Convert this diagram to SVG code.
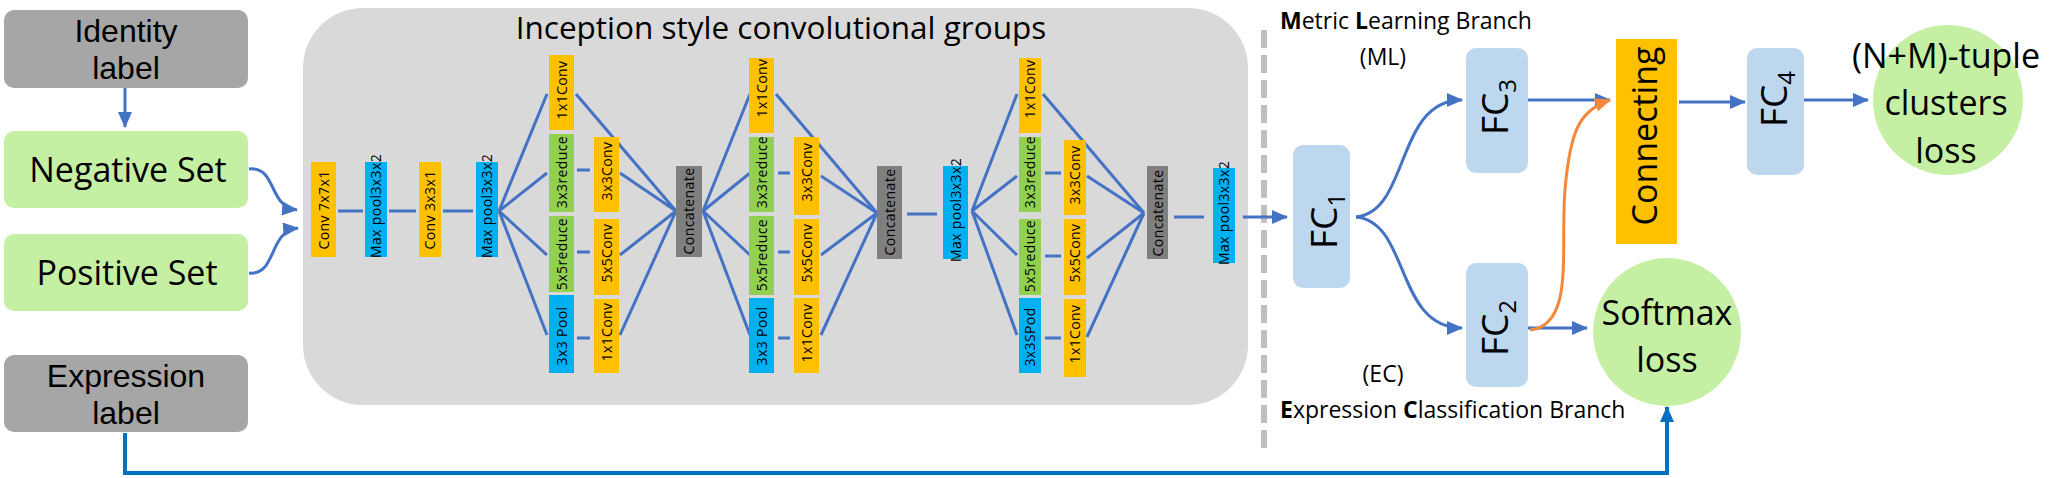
<svg xmlns="http://www.w3.org/2000/svg" width="2054" height="478" viewBox="0 0 2054 478">
<style>
.big{font-family:"Open Sans","Noto Sans",sans-serif;font-size:34px;fill:#000;text-anchor:middle}
.gl{font-family:"Liberation Sans",Arial,sans-serif;font-size:32px;fill:#000;text-anchor:middle}
.lay{font-family:"Open Sans","Noto Sans",sans-serif;font-size:14px;letter-spacing:0.4px;fill:#000;text-anchor:middle}
.fc{font-family:"Open Sans","Noto Sans",sans-serif;font-size:37px;fill:#000;text-anchor:middle}
.br{font-family:"Open Sans","Noto Sans",sans-serif;font-size:23px;fill:#000}
.or{fill:#ffc000}.bl{fill:#00b0f0}.gr{fill:#92d050}.ct{fill:#7f7f7f}
.ln{stroke:#4472c4;stroke-width:3;fill:none}
.fcb{fill:#bdd7ee}
</style>
<defs>
<marker id="ah" markerUnits="userSpaceOnUse" markerWidth="16" markerHeight="14" refX="15" refY="7" orient="auto"><path d="M0,0 L16,7 L0,14 Z" fill="#4472c4"/></marker>
<marker id="ahd" markerUnits="userSpaceOnUse" markerWidth="16" markerHeight="14" refX="15" refY="7" orient="auto"><path d="M0,0 L16,7 L0,14 Z" fill="#0070c0"/></marker>
<marker id="aho" markerUnits="userSpaceOnUse" markerWidth="16" markerHeight="14" refX="15" refY="7" orient="auto"><path d="M0,0 L16,7 L0,14 Z" fill="#f5883a"/></marker>
</defs>

<rect x="0" y="0" width="2054" height="478" fill="#fff"/>

<g id="inception-group">
<rect x="303" y="8" width="945" height="397" rx="60" fill="#d9d9d9"/>
<text class="big" x="781" y="39" style="font-size:31.5px">Inception style convolutional groups</text>
</g>

<g id="separator">
<line x1="1264" y1="30" x2="1264" y2="452" stroke="#bfbfbf" stroke-width="6" stroke-dasharray="18 7"/>
</g>

<g id="connectors">
<line class="ln" x1="125" y1="88" x2="125" y2="127" marker-end="url(#ah)"/>
<path class="ln" d="M249,169 C277,166 268,207 297,210" marker-end="url(#ah)"/>
<path class="ln" d="M249,273 C277,276 268,231 298,228" marker-end="url(#ah)"/>
<path d="M125,433 L125,473 L1667,473 L1667,407" stroke="#0070c0" stroke-width="4" fill="none" marker-end="url(#ahd)"/>
<line class="ln" x1="338" y1="211" x2="363" y2="211"/>
<line class="ln" x1="389" y1="211" x2="416" y2="211"/>
<line class="ln" x1="443" y1="211" x2="473" y2="211"/>
<path class="ln" d="M499,211 L547,94 M499,211 L547,173 M499,211 L547,255 M499,211 L547,335"/>
<path class="ln" d="M577,170 L590,170 M577,252 L590,252 M577,338 L590,338"/>
<path class="ln" d="M576,94 L676,211 M620,173 L676,211 M620,255 L676,211 M620,335 L676,211"/>
<path class="ln" d="M703,211 L750,94 M703,211 L750,173 M703,211 L750,255 M703,211 L750,335"/>
<path class="ln" d="M778,173 L790,173 M778,252 L790,252 M778,338 L790,338"/>
<path class="ln" d="M776,94 L877,213 M821,176 L877,213 M821,255 L877,213 M821,335 L877,213"/>
<line class="ln" x1="907" y1="214" x2="937" y2="214"/>
<path class="ln" d="M972,211 L1017,94 M972,211 L1017,176 M972,211 L1017,255 M972,211 L1017,335"/>
<path class="ln" d="M1045,173 L1061,173 M1045,256 L1061,256 M1045,338 L1061,338"/>
<path class="ln" d="M1043,94 L1144,213 M1087,176 L1144,213 M1087,258 L1144,213 M1087,337 L1144,213"/>
<line class="ln" x1="1174" y1="217" x2="1204" y2="217"/>
<line class="ln" x1="1243" y1="217" x2="1287" y2="217" marker-end="url(#ah)"/>
<path class="ln" d="M1356,217 C1410,212 1395,100 1462,100" marker-end="url(#ah)"/>
<path class="ln" d="M1356,217 C1410,222 1395,328 1462,328" marker-end="url(#ah)"/>
<line class="ln" x1="1528" y1="100" x2="1610" y2="100" marker-end="url(#ah)"/>
<line class="ln" x1="1522" y1="328" x2="1587" y2="328" marker-end="url(#ah)"/>
<path d="M1530,330 C1575,325 1560,250 1565,190 C1570,130 1580,110 1610,100" stroke="#f5883a" stroke-width="3" fill="none" marker-end="url(#aho)"/>
<line class="ln" x1="1679" y1="102" x2="1745" y2="102" marker-end="url(#ah)"/>
<line class="ln" x1="1803" y1="100" x2="1868" y2="100" marker-end="url(#ah)"/>
</g>

<g id="identity-label"><rect x="4" y="10" width="244" height="78" rx="10" fill="#a6a6a6"/><text class="gl"><tspan x="126" y="42">Identity</tspan><tspan x="126" y="79">label</tspan></text></g>
<g id="negative-set"><rect x="4" y="131" width="244" height="77" rx="10" fill="#c5f0a4"/><text class="big" x="128" y="182">Negative Set</text></g>
<g id="positive-set"><rect x="4" y="234" width="244" height="77" rx="10" fill="#c5f0a4"/><text class="big" x="127" y="285">Positive Set</text></g>
<g id="expression-label"><rect x="4" y="355" width="244" height="77" rx="10" fill="#a6a6a6"/><text class="gl"><tspan x="126" y="387">Expression</tspan><tspan x="126" y="424">label</tspan></text></g>

<g id="conv7"><rect class="or" x="311" y="162" width="25" height="95"/><text class="lay" transform="translate(328.5,210) rotate(-90)">Conv 7x7x1</text></g>
<g id="pool1"><rect class="bl" x="365" y="162" width="22" height="95"/><text class="lay" transform="translate(381,206) rotate(-90)">Max pool3x3x2</text></g>
<g id="conv3"><rect class="or" x="419" y="162" width="22" height="95"/><text class="lay" transform="translate(435,210) rotate(-90)">Conv 3x3x1</text></g>
<g id="pool2"><rect class="bl" x="476" y="162" width="22" height="95"/><text class="lay" transform="translate(492,206) rotate(-90)">Max pool3x3x2</text></g>

<g id="inc1-1x1"><rect class="or" x="549" y="55" width="25" height="75"/><text class="lay" transform="translate(566.5,90) rotate(-90)">1x1Conv</text></g>
<g id="inc1-3r"><rect class="gr" x="549" y="134" width="25" height="78"/><text class="lay" transform="translate(566.5,172) rotate(-90)">3x3reduce</text></g>
<g id="inc1-5r"><rect class="gr" x="549" y="216" width="25" height="76"/><text class="lay" transform="translate(566.5,254) rotate(-90)">5x5reduce</text></g>
<g id="inc1-pool"><rect class="bl" x="549" y="295" width="25" height="78"/><text class="lay" transform="translate(566.5,336) rotate(-90)">3x3 Pool</text></g>
<g id="inc1-3c"><rect class="or" x="594" y="137" width="25" height="75"/><text class="lay" transform="translate(611.5,171) rotate(-90)">3x3Conv</text></g>
<g id="inc1-5c"><rect class="or" x="594" y="219" width="25" height="76"/><text class="lay" transform="translate(611.5,253) rotate(-90)">5x5Conv</text></g>
<g id="inc1-1c"><rect class="or" x="594" y="299" width="25" height="74"/><text class="lay" transform="translate(611.5,332) rotate(-90)">1x1Conv</text></g>
<g id="concat1"><rect class="ct" x="676" y="166" width="26" height="91"/><text class="lay" transform="translate(694,211) rotate(-90)" fill="#262626">Concatenate</text></g>

<g id="inc2-1x1"><rect class="or" x="749" y="58" width="25" height="75"/><text class="lay" transform="translate(766.5,88) rotate(-90)">1x1Conv</text></g>
<g id="inc2-3r"><rect class="gr" x="749" y="137" width="25" height="75"/><text class="lay" transform="translate(766.5,172) rotate(-90)">3x3reduce</text></g>
<g id="inc2-5r"><rect class="gr" x="749" y="216" width="25" height="79"/><text class="lay" transform="translate(766.5,255) rotate(-90)">5x5reduce</text></g>
<g id="inc2-pool"><rect class="bl" x="749" y="298" width="25" height="75"/><text class="lay" transform="translate(766.5,336) rotate(-90)">3x3 Pool</text></g>
<g id="inc2-3c"><rect class="or" x="794" y="137" width="25" height="78"/><text class="lay" transform="translate(811.5,172) rotate(-90)">3x3Conv</text></g>
<g id="inc2-5c"><rect class="or" x="794" y="219" width="25" height="76"/><text class="lay" transform="translate(811.5,253) rotate(-90)">5x5Conv</text></g>
<g id="inc2-1c"><rect class="or" x="794" y="298" width="25" height="75"/><text class="lay" transform="translate(811.5,333) rotate(-90)">1x1Conv</text></g>
<g id="concat2"><rect class="ct" x="877" y="166" width="25" height="93"/><text class="lay" transform="translate(894.5,212) rotate(-90)">Concatenate</text></g>

<g id="pool3"><rect class="bl" x="943" y="166" width="25" height="93"/><text class="lay" transform="translate(960.5,210) rotate(-90)">Max pool3x3x2</text></g>

<g id="inc3-1x1"><rect class="or" x="1019" y="58" width="22" height="75"/><text class="lay" transform="translate(1035,89) rotate(-90)">1x1Conv</text></g>
<g id="inc3-3r"><rect class="gr" x="1019" y="137" width="22" height="75"/><text class="lay" transform="translate(1035,172) rotate(-90)">3x3reduce</text></g>
<g id="inc3-5r"><rect class="gr" x="1019" y="219" width="22" height="76"/><text class="lay" transform="translate(1035,256) rotate(-90)">5x5reduce</text></g>
<g id="inc3-pool"><rect class="bl" x="1019" y="298" width="22" height="75"/><text class="lay" transform="translate(1035,337) rotate(-90)">3x3SPod</text></g>
<g id="inc3-3c"><rect class="or" x="1064" y="140" width="22" height="75"/><text class="lay" transform="translate(1080,175) rotate(-90)">3x3Conv</text></g>
<g id="inc3-5c"><rect class="or" x="1064" y="219" width="22" height="76"/><text class="lay" transform="translate(1080,253) rotate(-90)">5x5Conv</text></g>
<g id="inc3-1c"><rect class="or" x="1064" y="299" width="22" height="78"/><text class="lay" transform="translate(1080,334) rotate(-90)">1x1Conv</text></g>
<g id="concat3"><rect class="ct" x="1147" y="166" width="21" height="93"/><text class="lay" transform="translate(1162.5,213) rotate(-90)">Concatenate</text></g>

<g id="pool4"><rect class="bl" x="1213" y="168" width="22" height="95"/><text class="lay" transform="translate(1229,213) rotate(-90)">Max pool3x3x2</text></g>

<g id="ml-label"><text class="br" x="1280" y="29"><tspan font-weight="bold">M</tspan>etric <tspan font-weight="bold">L</tspan>earning Branch</text><text class="br" x="1383" y="65" text-anchor="middle">(ML)</text></g>
<g id="ec-label"><text class="br" x="1383" y="382" text-anchor="middle">(EC)</text><text class="br" x="1280" y="418"><tspan font-weight="bold">E</tspan>xpression <tspan font-weight="bold">C</tspan>lassification Branch</text></g>

<g id="fc1"><rect class="fcb" x="1293" y="145" width="57" height="143" rx="10"/><text class="fc" transform="translate(1337,221) rotate(-90)">FC<tspan font-size="24" dy="8">1</tspan></text></g>
<g id="fc3"><rect class="fcb" x="1466" y="48" width="62" height="125" rx="10"/><text class="fc" transform="translate(1508,107) rotate(-90)">FC<tspan font-size="24" dy="8">3</tspan></text></g>
<g id="fc2"><rect class="fcb" x="1466" y="263" width="62" height="124" rx="10"/><text class="fc" transform="translate(1508,328) rotate(-90)">FC<tspan font-size="24" dy="8">2</tspan></text></g>
<g id="connecting"><rect x="1616" y="39" width="61" height="205" fill="#ffc000"/><text class="fc" transform="translate(1657,136) rotate(-90)" style="font-size:34px">Connecting</text></g>
<g id="fc4"><rect class="fcb" x="1747" y="48" width="57" height="127" rx="10"/><text class="fc" transform="translate(1787,99) rotate(-90)">FC<tspan font-size="24" dy="8">4</tspan></text></g>

<g id="softmax-loss"><circle cx="1667" cy="332" r="74" fill="#c5f0a4"/><text class="big"><tspan x="1667" y="325">Softmax</tspan><tspan x="1667" y="372">loss</tspan></text></g>
<g id="cluster-loss"><circle cx="1948" cy="100" r="75" fill="#c5f0a4"/><text class="big"><tspan x="1946" y="68">(N+M)-tuple</tspan><tspan x="1946" y="115">clusters</tspan><tspan x="1946" y="163">loss</tspan></text></g>
</svg>
